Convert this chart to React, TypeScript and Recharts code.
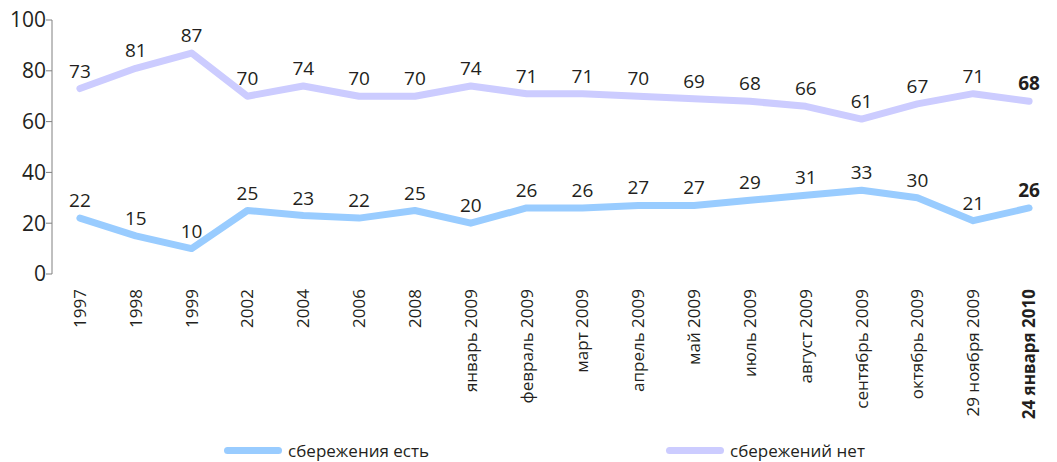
import { LineChart, Line, XAxis, YAxis, Legend, LabelList } from 'recharts'

const categories = [
  '1997', '1998', '1999', '2002', '2004', '2006', '2008',
  'январь 2009', 'февраль 2009', 'март 2009', 'апрель 2009', 'май 2009',
  'июль 2009', 'август 2009', 'сентябрь 2009', 'октябрь 2009',
  '29 ноября 2009', '24 января 2010',
]
const haveSavings = [22, 15, 10, 25, 23, 22, 25, 20, 26, 26, 27, 27, 29, 31, 33, 30, 21, 26]
const noSavings = [73, 81, 87, 70, 74, 70, 70, 74, 71, 71, 70, 69, 68, 66, 61, 67, 71, 68]
const yTicks = [0, 20, 40, 60, 80, 100]

const HAVE_COLOR = '#99ccff'
const NONE_COLOR = '#ccccff'
const TEXT = '#231f20'
const AXIS = '#808080'
const FONT = '"Open Sans", sans-serif'
const LAST = categories.length - 1

const data = categories.map((name, i) => ({
  x: i + 0.5,
  name,
  have: haveSavings[i],
  none: noSavings[i],
}))
const boundaryTicks = categories.map((_, i) => i).concat(categories.length)
const centerTicks = data.map(d => d.x)

function CategoryTick(props: any) {
  const { x, y, payload } = props
  const idx = Math.round(payload.value - 0.5)
  return (
    <text
      x={x}
      y={y + 7}
      transform={`rotate(-90 ${x} ${y + 7})`}
      textAnchor="end"
      dy="0.35em"
      fontSize={17}
      fontFamily={FONT}
      fontWeight={idx === LAST ? 'bold' : 'normal'}
      fill={TEXT}
    >
      {categories[idx]}
    </text>
  )
}

function PointLabel(props: any) {
  const { x, y, value, index } = props
  return (
    <text
      x={x}
      y={y - 11}
      textAnchor="middle"
      fontSize={19}
      fontFamily={FONT}
      fontWeight={index === LAST ? 'bold' : 'normal'}
      fill={TEXT}
    >
      {value}
    </text>
  )
}

function LegendBox() {
  const items = [
    { label: 'сбережения есть', color: HAVE_COLOR },
    { label: 'сбережений нет', color: NONE_COLOR },
  ]
  return (
    <div style={{ display: 'flex', justifyContent: 'center', gap: 237, height: 24, alignItems: 'center', paddingLeft: 32 }}>
      {items.map(it => (
        <div key={it.label} style={{ display: 'flex', alignItems: 'center', fontFamily: FONT, fontSize: 17, color: TEXT }}>
          <span style={{ display: 'inline-block', width: 58, height: 7, borderRadius: 4, background: it.color, marginRight: 6 }} />
          {it.label}
        </div>
      ))}
    </div>
  )
}

export default function App() {
  return (
    <div style={{ position: 'absolute', left: 0, top: 0 }}>
      <LineChart width={1057} height={462} data={data} margin={{ top: 20, right: 0, bottom: 0, left: 0 }}>
        <XAxis
          xAxisId="grid"
          type="number"
          dataKey="x"
          domain={[0, categories.length]}
          ticks={boundaryTicks}
          interval={0}
          height={0}
          stroke={AXIS}
          tickSize={5}
          tickFormatter={() => ''}
        />
        <XAxis
          xAxisId="lab"
          type="number"
          dataKey="x"
          domain={[0, categories.length]}
          ticks={centerTicks}
          interval={0}
          height={164}
          axisLine={false}
          tickLine={false}
          tick={<CategoryTick />}
        />
        <YAxis
          domain={[0, 100]}
          ticks={yTicks}
          width={52}
          stroke={AXIS}
          tickSize={6}
          tickMargin={0}
          tick={{ fill: TEXT, fontSize: 21, fontFamily: FONT }}
        />
        <Legend verticalAlign="bottom" content={<LegendBox />} />
        <Line
          xAxisId="lab"
          dataKey="have"
          stroke={HAVE_COLOR}
          strokeWidth={7}
          strokeLinecap="round"
          strokeLinejoin="round"
          dot={false}
          isAnimationActive={false}
        >
          <LabelList dataKey="have" content={<PointLabel />} />
        </Line>
        <Line
          xAxisId="lab"
          dataKey="none"
          stroke={NONE_COLOR}
          strokeWidth={7}
          strokeLinecap="round"
          strokeLinejoin="round"
          dot={false}
          isAnimationActive={false}
        >
          <LabelList dataKey="none" content={<PointLabel />} />
        </Line>
      </LineChart>
    </div>
  )
}
